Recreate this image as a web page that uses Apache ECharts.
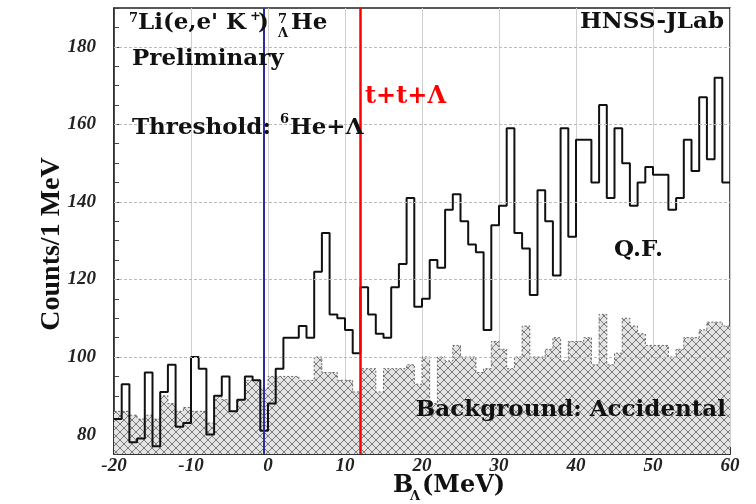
<!DOCTYPE html>
<html>
<head>
<meta charset="utf-8">
<script src="https://cdn.jsdelivr.net/npm/echarts@6/dist/echarts.min.js"></script>
<style>
  html, body { margin: 0; padding: 0; background: #fff; }
  #chart { width: 756px; height: 504px; }
</style>
</head>
<body>
<div id="chart"></div>
<script>
// 1 MeV bins, left edges from -20 to 59
const binStart = -20;
const binCount = 80;
const xTicks = [-20, -10, 0, 10, 20, 30, 40, 50, 60];
const yTicks = [80, 100, 120, 140, 160, 180];

// quasi-free spectrum (counts per bin)
const qfCounts = [
  84, 93, 78, 79, 96, 77, 91, 98, 82, 83,
  100, 97, 80, 90, 95, 86, 89, 95, 94, 81,
  88, 97, 105, 105, 108, 105, 122, 132, 111, 110,
  107, 101, 118, 111, 106, 105, 118, 124, 141, 113,
  115, 125, 123, 138, 142, 135, 129, 127, 107, 134,
  139, 159, 132, 128, 116, 143, 135, 121, 159, 131,
  156, 156, 145, 165, 141, 159, 150, 139, 145, 149,
  147, 147, 138, 141, 156, 148, 167, 151, 172, 145
];

// accidental background (hatched)
const bgCounts = [
  86, 86, 85, 84, 85, 84, 90, 88, 86, 87,
  86, 86, 83, 90, 89, 86, 89, 94, 94, 92,
  95, 95, 95, 95, 94, 94, 100, 96, 96, 94,
  94, 91, 97, 97, 91, 97, 97, 97, 98, 93,
  100, 88, 100, 99, 103, 100, 100, 96, 97, 104,
  102, 97, 100, 108, 100, 100, 102, 105, 99, 104,
  104, 105, 98, 111, 98, 101, 110, 108, 106, 103,
  103, 103, 100, 102, 105, 105, 107, 109, 109, 108
];

const thresholdLine = -0.5;  // 6He + Lambda
const ttLambdaLine = 12;     // t+t+Lambda

function stepData(counts) {
  const pts = counts.map((v, i) => [binStart + i, v]);
  pts.push([binStart + binCount, counts[counts.length - 1]]);
  return pts;
}

function hatchCanvas() {
  const c = document.createElement('canvas');
  c.width = 8; c.height = 8;
  const g = c.getContext('2d');
  g.fillStyle = '#e4e4e4';
  g.fillRect(0, 0, 8, 8);
  g.strokeStyle = '#7a7a7a';
  g.lineWidth = 1;
  g.beginPath();
  g.moveTo(0, 0); g.lineTo(8, 8);
  g.moveTo(8, 0); g.lineTo(0, 8);
  g.stroke();
  return c;
}

const serif = "'DejaVu Serif', 'Liberation Serif', serif";
const times = "'Liberation Serif', serif";
const big = 'bold 23px ' + serif;
const small = 'bold 13px ' + serif;
const chart = echarts.init(document.getElementById('chart'));

const option = {
  animation: false,
  backgroundColor: '#fff',
  grid: {
    left: 114, right: 26, top: 8, bottom: 50,
    show: true, borderColor: '#222', borderWidth: 1.5
  },
  xAxis: {
    type: 'value', min: xTicks[0], max: xTicks[xTicks.length - 1], interval: 10,
    axisLine: { show: true, onZero: false, lineStyle: { color: '#222', width: 1.5 } },
    axisTick: { inside: true, length: 7, lineStyle: { color: '#333' } },
    splitLine: { show: true, lineStyle: { color: '#cfcfcf', width: 1 } },
    axisLabel: {
      fontFamily: times, fontStyle: 'italic', fontWeight: 'bold',
      fontSize: 19, color: '#222', margin: 3
    }
  },
  yAxis: {
    type: 'value', min: 75, max: 190, interval: 5,
    axisLine: { show: true, onZero: false, lineStyle: { color: '#222', width: 1.5 } },
    axisTick: { inside: true, length: 5, lineStyle: { color: '#444' } },
    splitLine: { show: false },
    axisLabel: {
      fontFamily: times, fontStyle: 'italic', fontWeight: 'bold',
      fontSize: 19, color: '#222', margin: 18,
      formatter: v => (yTicks.indexOf(v) >= 0 ? String(v) : '')
    }
  },
  series: [
    {
      name: 'Background: Accidental', type: 'line', step: 'end', symbol: 'none',
      data: stepData(bgCounts),
      lineStyle: { color: '#666', width: 1, type: [2, 2] },
      areaStyle: { color: { image: hatchCanvas(), repeat: 'repeat' }, opacity: 1 },
      markLine: {
        silent: true, symbol: 'none', label: { show: false },
        lineStyle: { color: '#bbbbbb', width: 1, type: [3, 2] },
        data: yTicks.slice(1).map(v => ({ yAxis: v }))
      },
      z: 2
    },
    {
      name: 'Q.F.', type: 'line', step: 'end', symbol: 'none',
      data: stepData(qfCounts),
      lineStyle: { color: '#111', width: 2 },
      markLine: {
        silent: true, symbol: 'none', label: { show: false },
        data: [
          { xAxis: thresholdLine, lineStyle: { color: '#2b2ba6', width: 2, type: 'solid' } },
          { xAxis: ttLambdaLine, lineStyle: { color: '#ff0000', width: 2.5, type: 'solid' } }
        ]
      },
      z: 3
    }
  ],
  graphic: [
    { type: 'text', left: 129, top: 12, z: 10, style: { text: '7', font: small, fill: '#111' } },
    { type: 'text', left: 138, top: 12, z: 10, style: { text: "Li(e,e' K", font: big, fill: '#111' } },
    { type: 'text', left: 250, top: 10, z: 10, style: { text: '+', font: small, fill: '#111' } },
    { type: 'text', left: 258, top: 12, z: 10, style: { text: ')', font: big, fill: '#111' } },
    { type: 'text', left: 278, top: 13, z: 10, style: { text: '7', font: small, fill: '#111' } },
    { type: 'text', left: 278, top: 27, z: 10, style: { text: 'Λ', font: small, fill: '#111' } },
    { type: 'text', left: 291, top: 12, z: 10, style: { text: 'He', font: big, fill: '#111' } },
    { type: 'text', left: 132, top: 48, z: 10, style: { text: 'Preliminary', font: big, fill: '#111' } },
    { type: 'text', left: 132, top: 117, z: 10, style: { text: 'Threshold:', font: big, fill: '#111' } },
    { type: 'text', left: 280, top: 113, z: 10, style: { text: '6', font: small, fill: '#111' } },
    { type: 'text', left: 290, top: 117, z: 10, style: { text: 'He+Λ', font: big, fill: '#111' } },
    { type: 'text', right: 32, top: 11, z: 10, style: { text: 'HNSS-JLab', font: big, fill: '#111' } },
    { type: 'text', left: 365, top: 85, z: 10, style: { text: 't+t+Λ', font: 'bold 24px ' + serif, fill: '#ff0000' } },
    { type: 'text', left: 614, top: 239, z: 10, style: { text: 'Q.F.', font: big, fill: '#111' } },
    { type: 'text', right: 30, top: 399, z: 10, style: { text: 'Background: Accidental', font: big, fill: '#111' } },
    {
      type: 'text', x: 52, y: 244, rotation: Math.PI / 2, z: 10,
      style: { text: 'Counts/1 MeV', font: 'bold 28px ' + times, fill: '#111', align: 'center', verticalAlign: 'middle' }
    },
    { type: 'text', left: 393, top: 474, z: 10, style: { text: 'B', font: 'bold 24px ' + serif, fill: '#111' } },
    { type: 'text', left: 410, top: 490, z: 10, style: { text: 'Λ', font: small, fill: '#111' } },
    { type: 'text', left: 422, top: 474, z: 10, style: { text: '(MeV)', font: 'bold 24px ' + serif, fill: '#111' } }
  ]
};

chart.setOption(option);
</script>
</body>
</html>
